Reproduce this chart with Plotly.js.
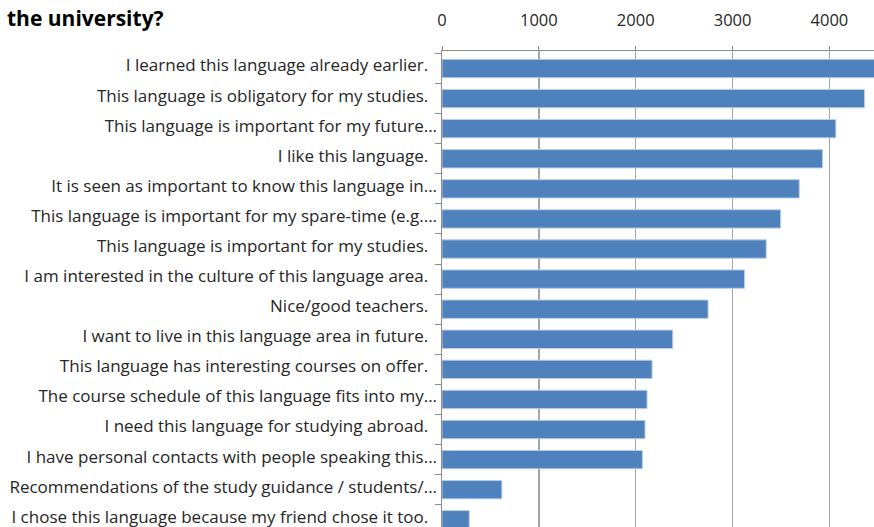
<!DOCTYPE html>
<html>
<head>
<meta charset="utf-8">
<script src="https://cdn.plot.ly/plotly-3.0.1.min.js"></script>
<style>html,body{margin:0;padding:0;background:#fff;}#chart{width:874px;height:527px;}</style>
</head>
<body>
<div id="chart"></div>
<script>
const categories = [
  "I learned this language already earlier.",
  "This language is obligatory for my studies.",
  "This language is important for my future...",
  "I like this language.",
  "It is seen as important to know this language in...",
  "This language is important for my spare-time (e.g....",
  "This language is important for my studies.",
  "I am interested in the culture of this language area.",
  "Nice/good teachers.",
  "I want to live in this language area in future.",
  "This language has interesting courses on offer.",
  "The course schedule of this language fits into my...",
  "I need this language for studying abroad.",
  "I have personal contacts with people speaking this...",
  "Recommendations of the study guidance / students/...",
  "I chose this language because my friend chose it too."
];
const values = [4480, 4362, 4066, 3928, 3688, 3496, 3347, 3123, 2747, 2382, 2169, 2117, 2096, 2069, 618, 281];
const xTicks = [0, 1000, 2000, 3000, 4000];
const titleText = "the university?";

const labels = categories.map(c => c.endsWith("...") ? c : c + "\u00a0\u00a0");
const FONT = "'Open Sans', sans-serif";

Plotly.newPlot("chart", [{
  type: "bar",
  orientation: "h",
  y: labels,
  x: values,
  marker: {color: "#4f81bd", line: {color: "#b9cde5", width: 1}},
  hoverinfo: "x+y"
}], {
  width: 874, height: 527,
  margin: {l: 442, r: 0, t: 51, b: 0, pad: 0},
  paper_bgcolor: "#ffffff", plot_bgcolor: "#ffffff",
  showlegend: false,
  bargap: 0.39,
  title: {text: "<b>" + titleText + "</b>", x: 7/874, xanchor: "left", xref: "container",
          y: 1 - 19/527, yanchor: "middle", yref: "container",
          font: {family: FONT, size: 21, color: "#000000"}},
  xaxis: {
    side: "top", range: [0, 4460], tickvals: xTicks,
    showgrid: true, gridcolor: "#a6a6a6", gridwidth: 1.5,
    showline: true, linecolor: "#8c8c8c", linewidth: 1.5,
    ticks: "outside", ticklen: 4, tickcolor: "#8c8c8c", tickwidth: 1,
    ticklabelstandoff: 13,
    zeroline: false,
    tickfont: {family: FONT, size: 16.5, color: "#262626"}
  },
  yaxis: {
    type: "category", range: [15.24, -0.582],
    showline: true, linecolor: "#8c8c8c", linewidth: 1.5,
    ticks: "outside", ticklen: 6, tickcolor: "#8c8c8c", tickwidth: 1,
    tickson: "boundaries", showgrid: false, zeroline: false,
    ticklabelstandoff: 0, ticklabelshift: 3,
    tickfont: {family: FONT, size: 17, color: "#262626"}
  }
}, {displayModeBar: false, staticPlot: true});
</script>
</body>
</html>
